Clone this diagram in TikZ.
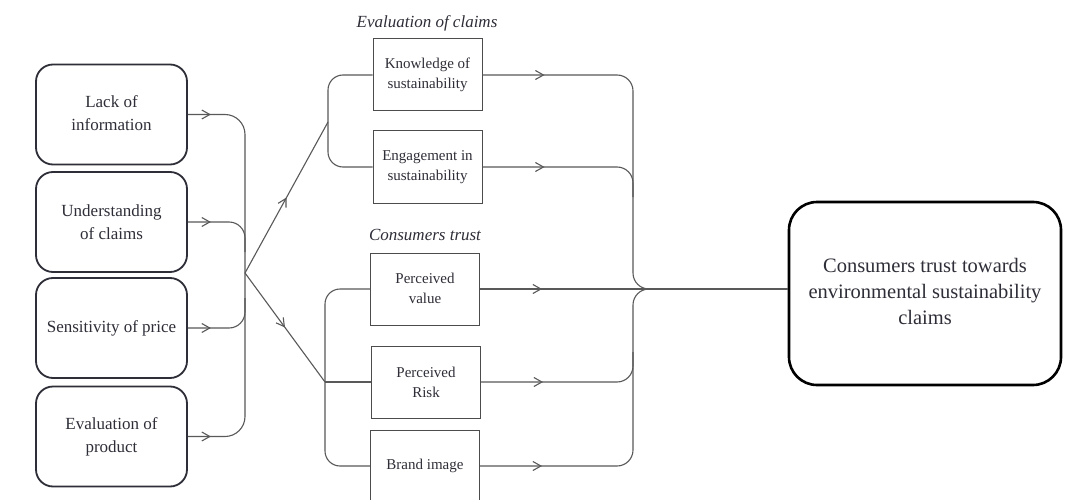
\documentclass[tikz,border=0pt]{standalone}
\usepackage{fontspec}
\setmainfont{Liberation Serif}
\usetikzlibrary{arrows.meta,decorations.markings}
\definecolor{ink}{rgb}{0.18,0.18,0.22}
\definecolor{wirec}{rgb}{0.35,0.35,0.35}
\tikzset{
  lbox/.style={draw=ink, line width=1.8pt, rounded corners=17pt, minimum width=151pt, minimum height=100pt, align=center, font=\fontsize{17}{23}\selectfont, text=ink, inner sep=0pt},
  mbox/.style={draw=wirec!85!black, line width=1pt, minimum width=109pt, minimum height=72pt, align=center, font=\fontsize{15}{20}\selectfont, text=ink, inner sep=0pt},
  bigbox/.style={draw=black, line width=2.6pt, rounded corners=28pt, minimum width=272pt, minimum height=183pt, align=center, font=\fontsize{20.5}{26}\selectfont, text=ink, inner sep=0pt},
  head/.style={font=\fontsize{17}{20}\selectfont\itshape, text=ink},
  wire/.style={draw=wirec, line width=1.1pt},
  arrowat/.style={postaction={decorate}, decoration={markings, mark=at position #1 with {\arrow{Straight Barb[length=8pt,width=9pt]}}}},
}
\begin{document}
\begin{tikzpicture}[x=1pt,y=-1pt]
\fill[white] (0,0) rectangle (1065,500);
\useasboundingbox (0,0) rectangle (1065,500);

% left boxes
\node[lbox] (l1) at (111.5,114.5) {\raisebox{7pt}{\begin{tabular}{@{}c@{}}Lack of\\information\end{tabular}}};
\node[lbox] (l2) at (111.5,222) {Understanding\\of claims};
\node[lbox] (l3) at (111.5,328) {Sensitivity of price};
\node[lbox] (l4) at (111.5,436.5) {Evaluation of\\product};

% headings
\node[head] (h1) at (427,23) {Evaluation of claims};
\node[head] (h2) at (425,235) {Consumers trust};

% middle boxes
\node[mbox] (k) at (427.5,75) {Knowledge of\\sustainability};
\node[mbox] (e) at (427.5,167) {Engagement in\\sustainability};
\node[mbox] (v) at (425,289) {\raisebox{-4pt}{\begin{tabular}{@{}c@{}}Perceived\\value\end{tabular}}};
\node[mbox] (r) at (426,382) {Perceived\\Risk};
\node[mbox] (b) at (425,466) {Brand image};

% big box
\node[bigbox] (big) at (925,293.5) {\raisebox{8pt}{\begin{tabular}{@{}c@{}}Consumers trust towards\\environmental sustainability\\claims\end{tabular}}};

% coordinates
\coordinate (J) at (245,273);
\coordinate (U) at (328,122);
\coordinate (L) at (325,382);
\coordinate (M) at (633,289);
\coordinate (in) at (v.east -| big.west);

% left connectors
\draw[wire, rounded corners=20pt, arrowat=23pt] (l1.east) -- (l1.east -| J) -- (J);
\draw[wire, rounded corners=16pt, arrowat=23pt] (l2.east) -- (l2.east -| J) -- ++(0,30);
\draw[wire, rounded corners=16pt, arrowat=23pt] (l3.east) -- (l3.east -| J) -- ++(0,-30);
\draw[wire, rounded corners=20pt, arrowat=23pt] (l4.east) -- (l4.east -| J) -- (J);

% diagonals
\draw[wire, arrowat=0.5] (J) -- (U);
\draw[wire, arrowat=0.5] (J) -- (L);

% brackets
\draw[wire, rounded corners=15pt] (k.west) -- (k.west -| U) -- (e.west -| U) -- (e.west);
\draw[wire, rounded corners=15pt] (v.west) -- (v.west -| L) -- (b.west -| L) -- (b.west);
\draw[wire] (L) -- (r.west);

% right connectors
\draw[wire, rounded corners=16pt, arrowat=62pt] (k.east) -- (k.east -| M) -- (M) -- (in);
\draw[wire, rounded corners=16pt, arrowat=62pt] (e.east) -- (e.east -| M) -- ++(0,30);
\draw[wire, arrowat=62pt] (v.east) -- (in);
\draw[wire, rounded corners=16pt, arrowat=62pt] (r.east) -- (r.east -| M) -- ++(0,-30);
\draw[wire, rounded corners=16pt, arrowat=62pt] (b.east) -- (b.east -| M) -- (M) -- (in);
\draw[wire, line width=1.6pt] (M) ++(18,0) -- (in);
\end{tikzpicture}
\end{document}
